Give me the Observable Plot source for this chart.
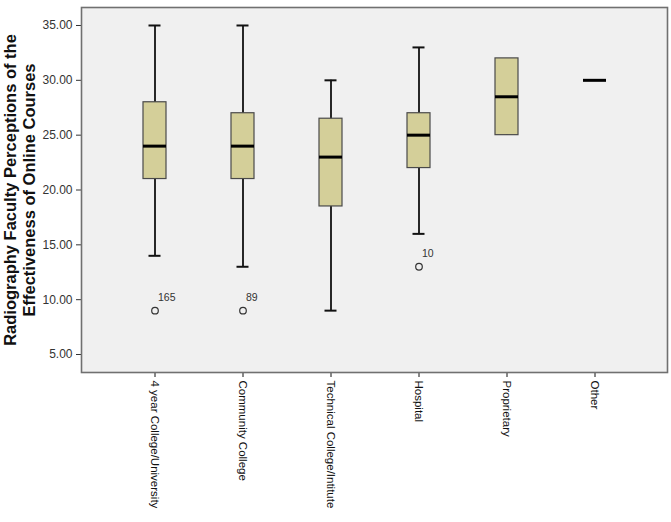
<!DOCTYPE html>
<html>
<head>
<meta charset="utf-8">
<script src="https://cdn.jsdelivr.net/npm/d3@7"></script>
<script src="https://cdn.jsdelivr.net/npm/@observablehq/plot@0.6"></script>
<style>
  html, body { margin: 0; padding: 0; background: #ffffff; }
  #chart { width: 671px; height: 522px; }
</style>
</head>
<body>
<div id="chart"></div>
<script>
// Box-plot summaries by institution type
const categories = [
  "4 year College/University",
  "Community College",
  "Technical College/Intitute",
  "Hospital",
  "Proprietary",
  "Other"
];
const whiskerLow  = [14, 13, 9,    16, 25,   30];
const q1          = [21, 21, 18.5, 22, 25,   30];
const median      = [24, 24, 23,   25, 28.5, 30];
const q3          = [28, 27, 26.5, 27, 32,   30];
const whiskerHigh = [35, 35, 30,   33, 32,   30];

// Outlying cases, labelled with their case numbers
const outlierCategory = ["4 year College/University", "Community College", "Hospital"];
const outlierValue    = [9, 9, 13];
const outlierCase     = ["165", "89", "10"];

const yTicks = [5, 10, 15, 20, 25, 30, 35];
const yTitle = "Radiography Faculty Perceptions of the\nEffectiveness of Online Courses";

const boxes = categories.map((c, i) => ({
  cat: c, lo: whiskerLow[i], q1: q1[i], med: median[i], q3: q3[i], hi: whiskerHigh[i]
}));
const outliers = outlierCategory.map((c, i) => ({cat: c, v: outlierValue[i], label: outlierCase[i]}));

const chart = Plot.plot({
  width: 671,
  height: 522,
  marginLeft: 81,
  marginRight: 4,
  marginTop: 7,
  marginBottom: 150,
  style: {fontFamily: "'Liberation Sans', Arial, sans-serif", background: "#ffffff"},
  x: {type: "band", domain: categories, paddingInner: 0.74, paddingOuter: 0.685},
  y: {domain: [3.36, 36.64]},
  marks: [
    Plot.frame({fill: "#f0f0f0", stroke: null}),
    // whiskers
    Plot.ruleX(boxes.filter(d => d.hi > d.lo), {x: "cat", y1: "lo", y2: "hi", stroke: "#111", strokeWidth: 1.8}),
    // whisker caps
    Plot.tickY(boxes.filter(d => d.hi > d.q3), {x: "cat", y: "hi", stroke: "#111", strokeWidth: 2, insetLeft: 5.5, insetRight: 5.5}),
    Plot.tickY(boxes.filter(d => d.lo < d.q1), {x: "cat", y: "lo", stroke: "#111", strokeWidth: 2, insetLeft: 5.5, insetRight: 5.5}),
    // boxes
    Plot.barY(boxes.filter(d => d.q3 > d.q1), {x: "cat", y1: "q1", y2: "q3", fill: "#d4cf99", stroke: "#4a4a4a", strokeWidth: 1.2}),
    // medians
    Plot.tickY(boxes, {x: "cat", y: "med", stroke: "#000", strokeWidth: 3}),
    // outliers
    Plot.dot(outliers, {x: "cat", y: "v", r: 3.3, stroke: "#333", strokeWidth: 1.2, fill: "none"}),
    Plot.text(outliers, {x: "cat", y: "v", text: "label", dx: 3, dy: -13, textAnchor: "start", fontSize: 10.5, fill: "#333"}),
    // axes
    Plot.axisY({ticks: yTicks, tickFormat: d3.format(".2f"), tickSize: 5, tickPadding: 4, label: null, fontSize: 12, color: "#333"}),
    Plot.axisX({tickSize: 5, tickPadding: 3, tickRotate: 90, label: null, fontSize: 11.5, color: "#111"}),
    Plot.text([yTitle], {text: d => d, frameAnchor: "left", textAnchor: "middle", lineAnchor: "middle", dx: -62, rotate: -90, fontSize: 16.5, fontWeight: "bold", lineHeight: 1.12, fill: "#111"}),
    Plot.frame({stroke: "#707070", strokeWidth: 1.6})
  ]
});
document.getElementById("chart").appendChild(chart);
</script>
</body>
</html>
